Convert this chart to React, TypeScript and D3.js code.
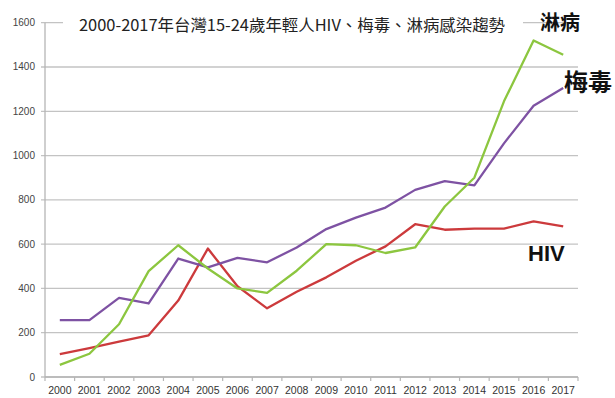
import React from "react";
import * as d3 from "d3";

const years = ["2000","2001","2002","2003","2004","2005","2006","2007","2008","2009","2010","2011","2012","2013","2014","2015","2016","2017"];
const hiv = [103,130,160,188,345,580,410,310,385,450,525,590,690,665,670,670,703,680];
const syphilis = [257,257,357,332,535,495,538,518,585,668,720,765,845,885,865,1055,1225,1305];
const gonorrhea = [55,105,238,478,595,490,400,380,480,600,595,560,585,770,900,1245,1520,1455];
const yTicks = [0,200,400,600,800,1000,1200,1400,1600];
const title = "2000-2017年台灣15-24歲年輕人HIV、梅毒、淋病感染趨勢";

const W = 615, H = 398;
const left = 45, right = 578, top = 22.7, bottom = 377;

export default function App() {
  const x = d3.scaleBand<string>().domain(years).range([left, right]);
  const y = d3.scaleLinear().domain([0, 1600]).range([bottom, top]);
  const cx = (d: string) => (x(d) as number) + x.bandwidth() / 2;
  const line = (vals: number[]) =>
    d3.line<number>().x((_, i) => cx(years[i])).y((v) => y(v))(vals) as string;

  const series = [
    { vals: hiv, color: "#cc3a3c" },
    { vals: syphilis, color: "#7e52a3" },
    { vals: gonorrhea, color: "#8cc63f" },
  ];
  const sansNum = "'Liberation Sans', Arial, sans-serif";
  const cjk = "'Noto Sans CJK TC', 'Noto Sans', sans-serif";

  return (
    <svg width={W} height={H} style={{ position: "absolute", left: 0, top: 0, background: "#fff" }}>
      <rect width={W} height={H} fill="#fff" />
      {yTicks.map((t) => (
        <g key={t}>
          <line x1={41} x2={right} y1={y(t)} y2={y(t)} stroke="#c3c3c3" strokeWidth={1.3} />
          <text x={35} y={y(t)} dy="0.35em" textAnchor="end" fontSize={10} fill="#444" fontFamily={sansNum}>{t}</text>
        </g>
      ))}
      <line x1={left} x2={left} y1={top} y2={bottom} stroke="#b5b5b5" strokeWidth={1.3} />
      <line x1={left} x2={right} y1={bottom} y2={bottom} stroke="#b5b5b5" strokeWidth={1.3} />
      {years.map((yr, i) => (
        <line key={"tk" + yr} x1={(x(yr) as number) + x.bandwidth()} x2={(x(yr) as number) + x.bandwidth()} y1={bottom} y2={bottom + 4} stroke="#b5b5b5" strokeWidth={1.2} />
      ))}
      <line x1={left} x2={left} y1={bottom} y2={bottom + 4} stroke="#b5b5b5" strokeWidth={1.2} />
      {years.map((yr) => (
        <text key={yr} x={cx(yr)} y={394} textAnchor="middle" fontSize={10.5} fill="#333" fontFamily={sansNum}>{yr}</text>
      ))}
      {series.map((s, i) => (
        <path key={i} d={line(s.vals)} fill="none" stroke={s.color} strokeWidth={2.3} strokeLinejoin="round" />
      ))}
      <rect x={63} y={13} width={460} height={22} fill="#fff" />
      <text x={79} y={31} fontSize={16} fill="#222" fontFamily={cjk} textLength={426} lengthAdjust="spacingAndGlyphs">{title}</text>
      <text x={540} y={30} fontSize={20} fill="#111" fontWeight="bold" fontFamily={cjk}>淋病</text>
      <text x={564} y={91} fontSize={24} fill="#111" fontWeight="bold" fontFamily={cjk}>梅毒</text>
      <text x={528} y={261} fontSize={22} fill="#111" fontWeight="bold" fontFamily={sansNum}>HIV</text>
    </svg>
  );
}
